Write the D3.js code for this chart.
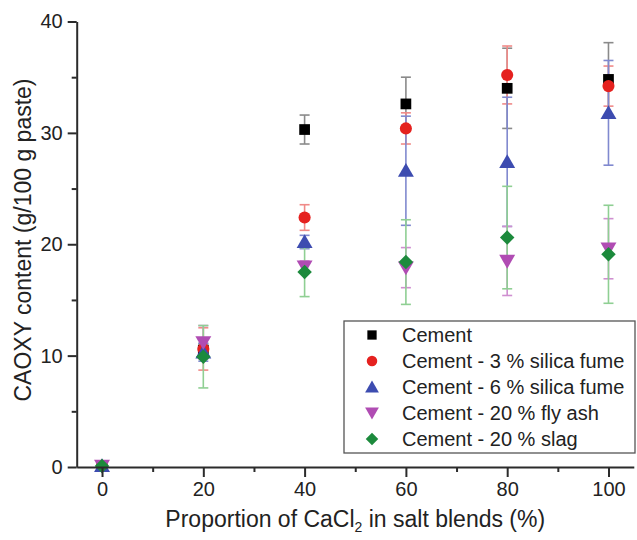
<!DOCTYPE html>
<html>
<head>
<meta charset="utf-8">
<script src="https://cdn.jsdelivr.net/npm/d3@7"></script>
<style>
  html, body { margin: 0; padding: 0; background: #fff; }
  svg { display: block; font-family: "Liberation Sans", Arial, sans-serif; }
</style>
</head>
<body>
<svg id="chart" width="637" height="540"></svg>
<script>
// CaCl2 proportion in the salt blend (%)
const proportions = [0, 20, 40, 60, 80, 100];

// CAOXY content (g/100 g paste), mean and ± error for each mix
const cementMean   = [0.1, 10.5, 30.3, 32.6, 34.0, 34.8];
const cementErr    = [0.3, 0.6, 1.3, 2.4, 3.6, 3.3];
const silica3Mean  = [0.1, 10.6, 22.4, 30.4, 35.2, 34.2];
const silica3Err   = [0.3, 1.9, 1.15, 1.4, 2.6, 1.8];
const silica6Mean  = [0.1, 10.3, 20.2, 26.6, 27.4, 31.8];
const silica6Err   = [0.3, 0.8, 0.6, 4.9, 5.8, 4.7];
const flyAshMean   = [0.1, 11.2, 18.0, 17.9, 18.5, 19.6];
const flyAshErr    = [0.3, 1.5, 0.5, 1.8, 3.1, 2.7];
const slagMean     = [0.1, 9.9, 17.5, 18.4, 20.6, 19.1];
const slagErr      = [0.3, 2.8, 2.2, 3.8, 4.6, 4.4];

const seriesNames = [
  "Cement",
  "Cement - 3 % silica fume",
  "Cement - 6 % silica fume",
  "Cement - 20 % fly ash",
  "Cement - 20 % slag"
];

const xTicks = [0, 20, 40, 60, 80, 100];
const yTicks = [0, 10, 20, 30, 40];

// square rotated by 45 degrees for the slag series
const squareDiamond = {
  draw(ctx, size) {
    const r = Math.sqrt(size / 2);
    ctx.moveTo(0, -r); ctx.lineTo(r, 0); ctx.lineTo(0, r); ctx.lineTo(-r, 0); ctx.closePath();
  }
};

const series = [
  { name: seriesNames[0], mean: cementMean,  err: cementErr,  symbol: d3.symbolSquare,   size: 115, fill: "#000000", bar: "#8a8a8a" },
  { name: seriesNames[1], mean: silica3Mean, err: silica3Err, symbol: d3.symbolCircle,   size: 115, fill: "#e5211f", bar: "#f08a88" },
  { name: seriesNames[2], mean: silica6Mean, err: silica6Err, symbol: d3.symbolTriangle, size: 110, fill: "#3d4cb0", bar: "#8089cf" },
  { name: seriesNames[3], mean: flyAshMean,  err: flyAshErr,  symbol: d3.symbolTriangle, size: 110, fill: "#b04cb3", bar: "#cf8fd0", flip: true },
  { name: seriesNames[4], mean: slagMean,    err: slagErr,    symbol: squareDiamond,     size: 105, fill: "#1c8a3c", bar: "#8fcf93" }
];

const svg = d3.select("#chart");
const axisColor = "#2b2b2b";

const x = d3.scaleLinear().domain([-5, 105]).range([76.7, 633.8]);
const y = d3.scaleLinear().domain([0, 40]).range([467, 21.5]);

// error bars first, symbols on top
const bars = svg.append("g");
series.forEach(s => {
  proportions.forEach((p, i) => {
    const cx = x(p), lo = y(s.mean[i] - s.err[i]), hi = y(s.mean[i] + s.err[i]);
    const g = bars.append("g").attr("stroke", s.bar).attr("stroke-width", 1.6);
    g.append("line").attr("x1", cx).attr("x2", cx).attr("y1", lo).attr("y2", hi);
    g.append("line").attr("x1", cx - 5).attr("x2", cx + 5).attr("y1", lo).attr("y2", lo);
    g.append("line").attr("x1", cx - 5).attr("x2", cx + 5).attr("y1", hi).attr("y2", hi);
  });
});

function symbolTransform(s, px, py) {
  const shift = s.symbol === d3.symbolTriangle ? (s.flip ? -1.5 : 1.5) : 0;
  return `translate(${px},${py + shift})${s.flip ? " rotate(180)" : ""}`;
}

const marks = svg.append("g");
series.forEach(s => {
  const sym = d3.symbol().type(s.symbol).size(s.size);
  marks.selectAll(null)
    .data(proportions.map((p, i) => [p, s.mean[i]]))
    .join("path")
    .attr("d", sym)
    .attr("transform", d => symbolTransform(s, x(d[0]), y(d[1])))
    .attr("fill", s.fill);
});

// axes
function styleAxis(g) {
  g.select(".domain").attr("stroke", axisColor).attr("stroke-width", 2);
  g.selectAll(".tick line").attr("stroke", axisColor).attr("stroke-width", 2);
  g.selectAll(".tick text").attr("fill", "#222").style("font-size", "20px")
    .style("font-family", "'Liberation Sans', Arial, sans-serif");
}

const xMinor = d3.range(10, 101, 20);
const yMinor = d3.range(5, 40, 10);

svg.append("g").attr("transform", `translate(0,${y(0)})`)
  .call(d3.axisBottom(x).tickValues(xMinor).tickSize(5).tickFormat("").tickSizeOuter(0))
  .call(g => g.select(".domain").remove())
  .call(g => g.selectAll(".tick line").attr("stroke", axisColor).attr("stroke-width", 2));
svg.append("g").attr("transform", `translate(${x(-5)},0)`)
  .call(d3.axisLeft(y).tickValues(yMinor).tickSize(5).tickFormat("").tickSizeOuter(0))
  .call(g => g.select(".domain").remove())
  .call(g => g.selectAll(".tick line").attr("stroke", axisColor).attr("stroke-width", 2));

svg.append("g").attr("transform", `translate(0,${y(0)})`)
  .call(d3.axisBottom(x).tickValues(xTicks).tickSize(10).tickPadding(5).tickSizeOuter(0))
  .call(styleAxis);
svg.append("g").attr("transform", `translate(${x(-5)},0)`)
  .call(d3.axisLeft(y).tickValues(yTicks).tickSize(9).tickPadding(5).tickSizeOuter(0))
  .call(styleAxis);

// axis titles
const xTitle = svg.append("text")
  .attr("x", (x(-5) + x(105)) / 2).attr("y", 527)
  .attr("text-anchor", "middle").attr("fill", "#222")
  .style("font-size", "23px");
xTitle.append("tspan").text("Proportion of CaCl");
xTitle.append("tspan").attr("dy", 5).style("font-size", "14px").text("2");
xTitle.append("tspan").attr("dy", -5).text(" in salt blends (%)");

svg.append("text")
  .attr("transform", `translate(31,240) rotate(-90)`)
  .attr("text-anchor", "middle").attr("fill", "#222")
  .style("font-size", "23px")
  .text("CAOXY content (g/100 g paste)");

// legend
const legend = svg.append("g");
legend.append("rect")
  .attr("x", 344).attr("y", 321).attr("width", 291).attr("height", 132)
  .attr("fill", "#fff").attr("stroke", "#555").attr("stroke-width", 1.3);
series.forEach((s, i) => {
  const ry = 335 + i * 26;
  legend.append("path")
    .attr("d", d3.symbol().type(s.symbol).size(s.size * 0.75))
    .attr("transform", symbolTransform(s, 372, ry))
    .attr("fill", s.fill);
  legend.append("text")
    .attr("x", 402).attr("y", ry + 7)
    .attr("fill", "#222").style("font-size", "20px")
    .text(s.name);
});
</script>
</body>
</html>
